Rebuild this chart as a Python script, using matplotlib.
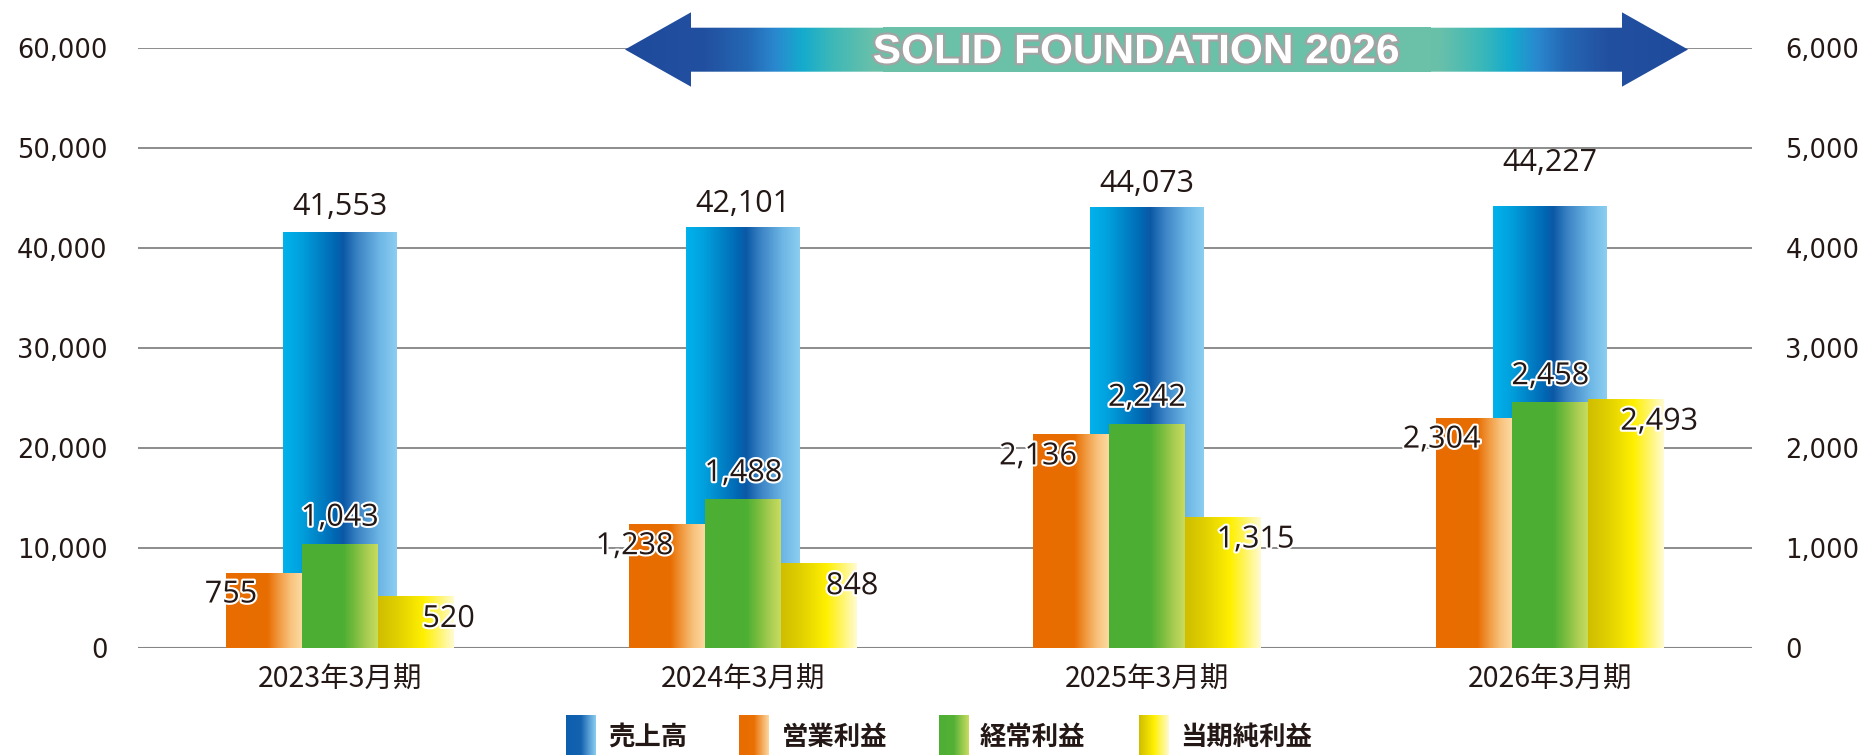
import numpy as np
import matplotlib
matplotlib.use("Agg")
import matplotlib.pyplot as plt
from matplotlib.colors import LinearSegmentedColormap, to_rgba
from matplotlib.patches import Polygon, Rectangle, PathPatch
from matplotlib.textpath import TextPath
from matplotlib.font_manager import FontProperties
from matplotlib.transforms import Affine2D
import matplotlib.patheffects as pe

# ---------------- data ----------------
categories = ['2023年3月期', '2024年3月期', '2025年3月期', '2026年3月期']
series_names = ['売上高', '営業利益', '経常利益', '当期純利益']
sales = [41553, 42101, 44073, 44227]          # left axis
op_income = [755, 1238, 2136, 2304]           # right axis
ord_income = [1043, 1488, 2242, 2458]         # right axis
net_income = [520, 848, 1315, 2493]           # right axis
left_ticks = [0, 10000, 20000, 30000, 40000, 50000, 60000]
right_ticks = [0, 1000, 2000, 3000, 4000, 5000, 6000]
banner_text = 'SOLID FOUNDATION 2026'

TXT = '#231815'
W, H = 1861, 755
DPI = 100

def grad_cmap(stops):
    return LinearSegmentedColormap.from_list('g', [(p, c) for p, c in stops])

blue_grad = grad_cmap([(0, '#00b2ec'), (0.15, '#00a2de'), (0.45, '#0068b4'), (0.53, '#0b58a6'),
                       (0.66, '#3c84c5'), (0.85, '#6db6e5'), (1.0, '#8ccef1')])
orange_grad = grad_cmap([(0, '#e86c00'), (0.55, '#e96e02'), (0.7, '#f19a42'), (0.85, '#f8c27c'), (1.0, '#fcd9a2')])
green_grad = grad_cmap([(0, '#4caf34'), (0.55, '#4daf34'), (0.7, '#78bc3e'), (0.85, '#a6cc52'), (1.0, '#c8dc5e')])
yellow_grad = grad_cmap([(0, '#cfbd00'), (0.25, '#e0cf00'), (0.6, '#fff000'), (0.8, '#fff566'), (1.0, '#fffbd2')])

blue_sw = grad_cmap([(0, '#0c5fae'), (0.5, '#1462b0'), (1.0, '#8ccef1')])
orange_sw = grad_cmap([(0, '#e86c00'), (0.5, '#ea7004'), (1.0, '#fcd9a2')])
green_sw = grad_cmap([(0, '#4caf34'), (0.5, '#55b136'), (1.0, '#cadd60')])
yellow_sw = grad_cmap([(0, '#cfbd00'), (0.5, '#fff000'), (1.0, '#fffbd2')])

def grad_img(cmap, n=256):
    return cmap(np.linspace(0, 1, n))[None, :, :]

fig = plt.figure(figsize=(W / DPI, H / DPI), dpi=DPI)
fig.patch.set_facecolor('white')

ax_l, ax_r, ax_b, ax_t = 138, 1752, 648, 48
ax = fig.add_axes([ax_l / W, (H - ax_b) / H, (ax_r - ax_l) / W, (ax_b - ax_t) / H])
ax2 = ax.twinx()

x = np.arange(len(categories))
bw_big = 0.2824
bw_small = 0.188

def paint(axis, bars, cmap):
    for b in bars:
        x0, w, h = b.get_x(), b.get_width(), b.get_height()
        im = axis.imshow(grad_img(cmap), extent=[x0, x0 + w, 0, h], aspect='auto',
                         interpolation='bilinear', zorder=b.get_zorder() + 0.1)
        im.set_clip_path(b)

b_sales = ax.bar(x, sales, width=bw_big, color='#0068b4', linewidth=0, zorder=2)
paint(ax, b_sales, blue_grad)

b_op = ax2.bar(x - bw_small, op_income, width=bw_small, color='#e86c00', linewidth=0, zorder=2)
b_ord = ax2.bar(x, ord_income, width=bw_small, color='#4caf34', linewidth=0, zorder=2)
b_net = ax2.bar(x + bw_small, net_income, width=bw_small, color='#fff000', linewidth=0, zorder=2)
paint(ax2, b_op, orange_grad)
paint(ax2, b_ord, green_grad)
paint(ax2, b_net, yellow_grad)

for a in (ax, ax2):
    a.set_xlim(-0.5, 3.5)
    for s in a.spines.values():
        s.set_visible(False)
    a.patch.set_visible(False)
ax.set_ylim(0, 60000)
ax2.set_ylim(0, 6000)
ax.set_yticks(left_ticks)
ax.set_yticklabels([f'{v:,}' for v in left_ticks])
ax2.set_yticks(right_ticks)
ax2.set_yticklabels([f'{v:,}' for v in right_ticks])
ax.set_xticks(x)
ax.set_xticklabels(categories)
ax.grid(axis='y', color='#8f8f8f', linewidth=1.45, zorder=0)
ax.set_axisbelow(True)
ax.axhline(0, color='#858585', linewidth=2.2, zorder=1)
ax.tick_params(axis='y', length=0, pad=22, labelsize=18.5, labelcolor=TXT)
ax2.tick_params(axis='y', length=0, pad=24, labelsize=18.5, labelcolor=TXT)
ax.tick_params(axis='x', length=0, pad=12, labelsize=20.5, labelcolor=TXT)
for t in ax.get_yticklabels() + ax2.get_yticklabels():
    t.set_fontfamily('DejaVu Sans')
for t in ax.get_xticklabels():
    t.set_fontfamily(['Noto Sans CJK JP', 'DejaVu Sans'])

# ---------------- value labels ----------------
PX = 72.0 / DPI
lab_font = dict(fontsize=22, color=TXT, family='Open Sans', ha='center', va='center')
outline = [pe.withStroke(linewidth=3, foreground='white')]
blue_raise = [25, 23, 23, 43]
for b, v, r in zip(b_sales, sales, blue_raise):
    ax.annotate(f'{v:,}', (b.get_x() + b.get_width() / 2, v), xytext=(0, r * PX),
                textcoords='offset points', zorder=5, **lab_font)
for b, v in zip(b_op, op_income):
    ax2.annotate(f'{v:,}', (b.get_x(), v), xytext=(5 * PX, -22 * PX),
                 textcoords='offset points', path_effects=outline, zorder=6, **lab_font)
for b, v in zip(b_ord, ord_income):
    ax2.annotate(f'{v:,}', (b.get_x() + b.get_width() / 2, v), xytext=(0, 26 * PX),
                 textcoords='offset points', path_effects=outline, zorder=6, **lab_font)
for b, v in zip(b_net, net_income):
    ax2.annotate(f'{v:,}', (b.get_x() + b.get_width(), v), xytext=(-5 * PX, -23 * PX),
                 textcoords='offset points', path_effects=outline, zorder=6, **lab_font)

# ---------------- overlay (banner + legend) in pixel space ----------------
ov = fig.add_axes([0, 0, 1, 1], zorder=10)
ov.set_xlim(0, W)
ov.set_ylim(H, 0)
ov.axis('off')
ov.patch.set_visible(False)

cy = 49.5
tipL, baseL, baseR, tipR = 625, 691, 1622, 1688
headT, headB, shT, shB = 12.3, 86.7, 27.7, 71.7
arrow_pts = [(tipL, cy), (baseL, headT), (baseL, shT), (baseR, shT), (baseR, headT), (tipR, cy),
             (baseR, headB), (baseR, shB), (baseL, shB), (baseL, headB)]
arrow = Polygon(arrow_pts, closed=True, facecolor='none', edgecolor='none')
ov.add_patch(arrow)
half_stops = [(625, '#1f4a9c'), (705, '#2250a0'), (748, '#2468b4'), (775, '#2a88cf'),
              (802, '#14abcd'), (832, '#3db8b8'), (872, '#68c0aa'), (1156.5, '#6cc0a8')]
mid = 1156.5
stops = half_stops + [(2 * mid - p, c) for p, c in reversed(half_stops[:-1])]
xs = np.arange(tipL, tipR + 1)
px_ = [p for p, _ in stops]
cols = np.array([to_rgba(c) for _, c in stops])
img = np.stack([np.interp(xs, px_, cols[:, k]) for k in range(4)], axis=-1)[None, :, :]
im = ov.imshow(img, extent=[tipL, tipR, headB, headT], aspect='auto', interpolation='bilinear', zorder=1)
im.set_clip_path(arrow)
ov.add_patch(Rectangle((883, 26.7), 1431 - 883, 72 - 26.7, facecolor='#6bc0a8', edgecolor='none', zorder=2))

tp = TextPath((0, 0), banner_text, size=100, prop=FontProperties(family='Liberation Sans', weight='bold'))
bb = tp.get_extents()
tx0, tx1, ty_top, ty_base = 874, 1398, 34.5, 63.5
sx = (tx1 - tx0) / bb.width
sy = (ty_base - ty_top) / bb.height
tr = Affine2D().translate(-bb.x0, -bb.y0).scale(sx, -sy).translate(tx0, ty_base) + ov.transData
ov.add_patch(PathPatch(tp, facecolor='#a3a3a3', edgecolor='#a3a3a3', linewidth=3.0, transform=tr, zorder=3))
ov.add_patch(PathPatch(tp, facecolor='white', edgecolor='none', transform=tr, zorder=4))

# legend
sw_x = [566, 739, 939, 1139]
txt_x = [608, 782, 980, 1180]
sw_cmaps = [blue_sw, orange_sw, green_sw, yellow_sw]
for name, sx0, tx, cm in zip(series_names, sw_x, txt_x, sw_cmaps):
    ov.imshow(grad_img(cm), extent=[sx0, sx0 + 30, 755, 715], aspect='auto', interpolation='bilinear', zorder=2)
    ov.text(tx, 737, name, fontsize=19, fontweight='bold', color=TXT, ha='left', va='center',
            family=['Noto Sans CJK JP', 'DejaVu Sans'])
ov.set_xlim(0, W)
ov.set_ylim(H, 0)

fig.savefig('out.png', dpi=DPI, facecolor='white')
